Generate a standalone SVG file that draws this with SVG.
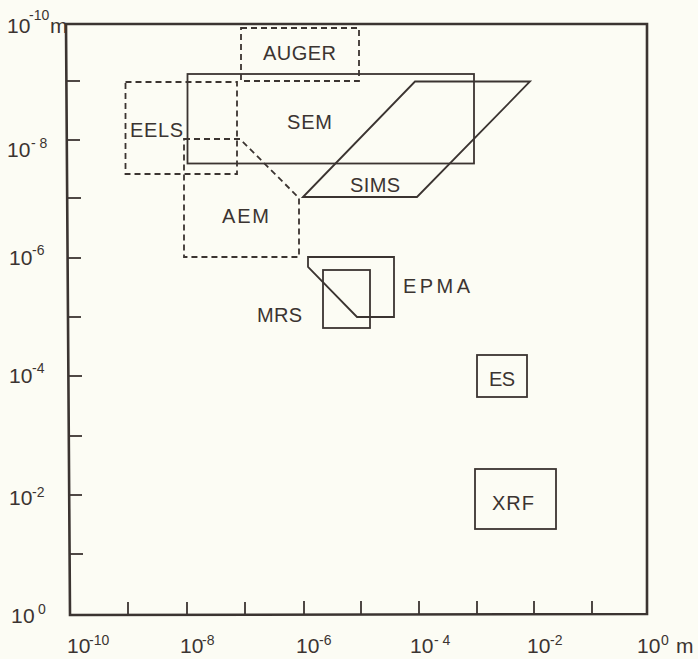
<svg xmlns="http://www.w3.org/2000/svg" width="698" height="659" viewBox="0 0 698 659">
<style>
.bg{fill:#fcfcf4}
.frame{fill:none;stroke:#3b3431;stroke-width:2.6;stroke-linejoin:miter}
.tick{stroke:#3b3431;stroke-width:1.8}
.s{fill:none;stroke:#3b3431;stroke-width:1.8;stroke-linejoin:miter}
.d{fill:none;stroke:#3b3431;stroke-width:1.8;stroke-dasharray:6 4}
.lbl{font-family:"Liberation Sans","DejaVu Sans",sans-serif;font-size:20px;fill:#3b3431}
.ax{font-family:"Liberation Sans","DejaVu Sans",sans-serif;font-size:21px;fill:#3b3431}
.sup{font-size:14px}
</style>
<rect class="bg" x="0" y="0" width="698" height="659"/>
<g id="axes">
<path class="frame" d="M66,24 L647,24 L647,614 L70,615 Z"/>
<g class="tick">
<line x1="66" y1="81" x2="80" y2="81"/>
<line x1="66" y1="140" x2="80" y2="140"/>
<line x1="67" y1="198" x2="81" y2="198"/>
<line x1="67" y1="258" x2="81" y2="258"/>
<line x1="68" y1="317" x2="81" y2="317"/>
<line x1="68" y1="376" x2="82" y2="376"/>
<line x1="69" y1="436" x2="82" y2="436"/>
<line x1="69" y1="495" x2="82" y2="495"/>
<line x1="70" y1="554" x2="83" y2="554"/>
<line x1="128" y1="602" x2="128" y2="614"/>
<line x1="187" y1="602" x2="187" y2="614"/>
<line x1="245" y1="602" x2="245" y2="614"/>
<line x1="304" y1="601" x2="304" y2="614"/>
<line x1="361" y1="601" x2="361" y2="614"/>
<line x1="419" y1="601" x2="419" y2="614"/>
<line x1="477" y1="601" x2="477" y2="614"/>
<line x1="534" y1="601" x2="534" y2="614"/>
<line x1="592" y1="601" x2="592" y2="614"/>
</g>
<g id="y-labels" class="ax">
<text x="7" y="33">10<tspan class="sup" x="29" y="20">-10</tspan><tspan x="50" y="33">m</tspan></text>
<text x="7" y="157">10<tspan class="sup" x="31" y="148">- 8</tspan></text>
<text x="9" y="265">10<tspan class="sup" x="32" y="255">-6</tspan></text>
<text x="9" y="383">10<tspan class="sup" x="32" y="373">-4</tspan></text>
<text x="9" y="505">10<tspan class="sup" x="32" y="497">-2</tspan></text>
<text x="11" y="623">1<tspan x="23">0</tspan><tspan class="sup" x="38" y="614">0</tspan></text>
</g>
<g id="x-labels" class="ax">
<text x="67" y="653">10<tspan class="sup" x="89" y="645">-10</tspan></text>
<text x="180" y="653">10<tspan class="sup" x="202" y="645">-8</tspan></text>
<text x="296" y="653">10<tspan class="sup" x="319" y="645">-6</tspan></text>
<text x="410" y="653">10<tspan class="sup" x="434" y="645">- 4</tspan></text>
<text x="527" y="653">10<tspan class="sup" x="550" y="645">-2</tspan></text>
<text x="637" y="653">10<tspan class="sup" x="661" y="645">0</tspan><tspan x="676" y="653">m</tspan></text>
</g>
</g>
<g id="connectors"/>
<g id="SEM">
<rect class="s" x="187.5" y="74" width="286.5" height="89.5"/>
<text class="lbl" x="287" y="129" textLength="45" lengthAdjust="spacing">SEM</text>
</g>
<g id="AUGER">
<rect class="d" x="241" y="28" width="118" height="53"/>
<text class="lbl" x="263" y="60" textLength="73" lengthAdjust="spacing">AUGER</text>
</g>
<g id="EELS">
<rect class="d" x="125.5" y="82" width="111.5" height="92"/>
<text class="lbl" x="130" y="137" textLength="53" lengthAdjust="spacing">EELS</text>
</g>
<g id="AEM">
<path class="d" d="M184,139 L240,139 L299,198 L299,257 L184,257 Z"/>
<text class="lbl" x="222" y="223" textLength="47" lengthAdjust="spacing">AEM</text>
</g>
<g id="SIMS">
<path class="s" d="M303,197 L415,81.5 L530,81.5 L417,197 Z"/>
<text class="lbl" x="350" y="192" textLength="50" lengthAdjust="spacing">SIMS</text>
</g>
<g id="EPMA">
<path class="s" d="M308,257 L394,257 L394,317 L357,317 L308,267 Z"/>
<text class="lbl" x="403" y="293" textLength="67" lengthAdjust="spacing">EPMA</text>
</g>
<g id="MRS">
<rect class="s" x="323" y="270" width="47" height="58"/>
<text class="lbl" x="257" y="322" textLength="45" lengthAdjust="spacing">MRS</text>
</g>
<g id="ES">
<rect class="s" x="477" y="355" width="50" height="42"/>
<text class="lbl" x="489" y="386" textLength="26" lengthAdjust="spacing">ES</text>
</g>
<g id="XRF">
<rect class="s" x="475" y="469" width="81" height="60"/>
<text class="lbl" x="492" y="510" textLength="42" lengthAdjust="spacing">XRF</text>
</g>
</svg>
